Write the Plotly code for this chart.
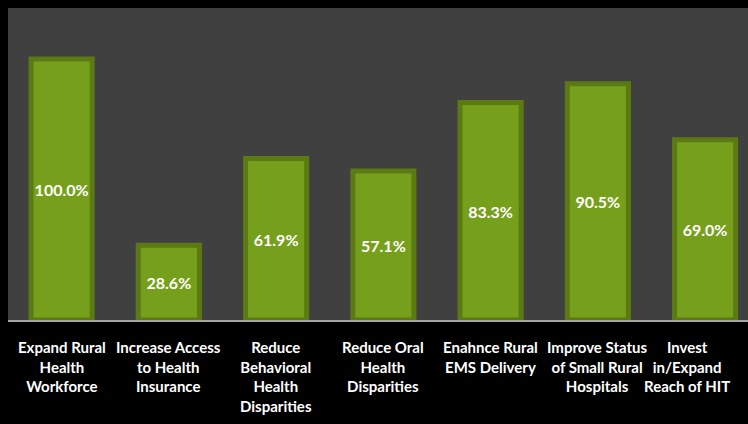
import plotly.graph_objects as go

categories = [
    "Expand Rural<br>Health<br>Workforce",
    "Increase Access<br>to Health<br>Insurance",
    "Reduce<br>Behavioral<br>Health<br>Disparities",
    "Reduce Oral<br>Health<br>Disparities",
    "Enahnce Rural<br>EMS Delivery",
    "Improve Status<br>of Small Rural<br>Hospitals",
    "Invest<br>in/Expand<br>Reach of HIT",
]
values = [100.0, 28.6, 61.9, 57.1, 83.3, 90.5, 69.0]
labels = [f"{v:.1f}%" for v in values]
label_shift = [0, 0, 0, 0, 0, 0, -18]

fig = go.Figure(go.Bar(
    x=categories,
    y=values,
    text=labels,
    texttemplate="<b>%{text}</b>",
    textposition="inside",
    insidetextanchor="middle",
    textangle=0,
    textfont=dict(family="Lato", size=16, color="white"),
    marker=dict(color="#76A01B", line=dict(color="#5B7A14", width=5)),
    width=0.57,
))

for c, s in zip(categories, label_shift):
    fig.add_annotation(
        x=c, y=0, xref="x", yref="y",
        text=f"<b>{c}</b>", showarrow=False,
        yanchor="top", xanchor="center", align="center",
        yshift=-16, xshift=s,
        font=dict(family="Lato", size=15, color="white"),
    )

fig.update_layout(
    width=748, height=424,
    margin=dict(l=8, r=0, t=8, b=104),
    paper_bgcolor="black",
    plot_bgcolor="#404040",
    showlegend=False,
    font=dict(family="Lato", size=15, color="white"),
)
fig.update_xaxes(
    showline=True, linecolor="#A6A6A6", linewidth=2,
    showticklabels=False, ticks="",
    showgrid=False,
    range=[-0.5, 6.4],
)
fig.update_yaxes(range=[0, 119.5], visible=False, showgrid=False)

fig.write_html(
    "out.html",
    config={"displayModeBar": False},
    post_script="document.body.style.margin='0';document.body.style.background='black';",
)
